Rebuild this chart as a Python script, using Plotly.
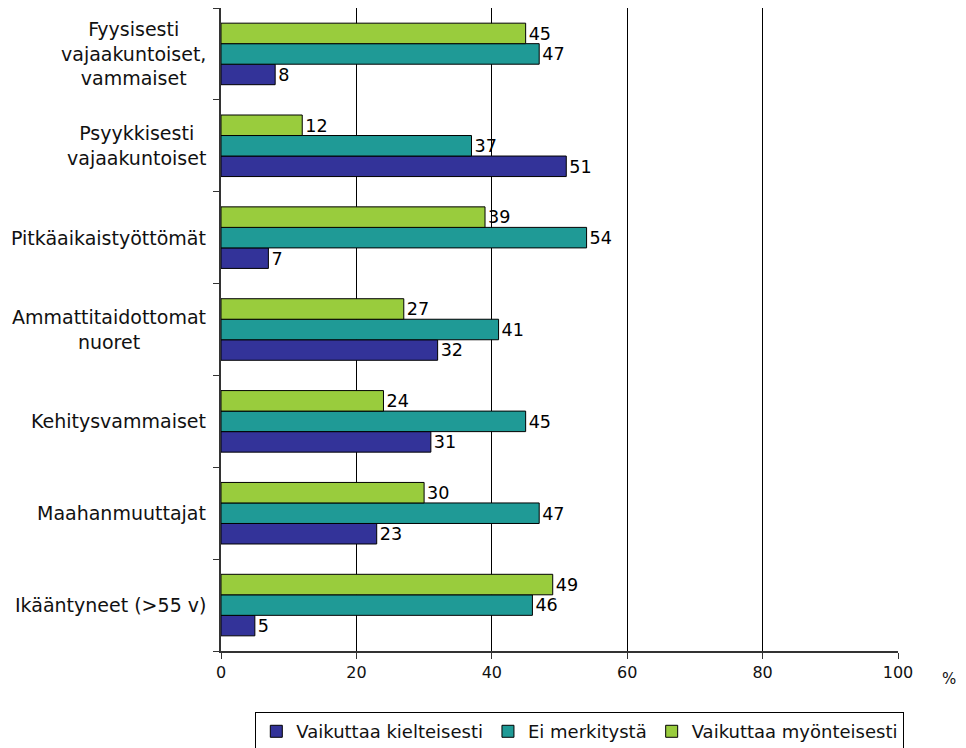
import plotly.graph_objects as go

categories = [
    "Fyysisesti<br>vajaakuntoiset,<br>vammaiset",
    "Psyykkisesti<br>vajaakuntoiset",
    "Pitkäaikaistyöttömät",
    "Ammattitaidottomat<br>nuoret",
    "Kehitysvammaiset",
    "Maahanmuuttajat",
    "Ikääntyneet (>55 v)",
]
series_names = ["Vaikuttaa kielteisesti", "Ei merkitystä", "Vaikuttaa myönteisesti"]
kielteisesti = [8, 51, 7, 32, 31, 23, 5]
ei_merkitysta = [47, 37, 54, 41, 45, 47, 46]
myonteisesti = [45, 12, 39, 27, 24, 30, 49]
x_ticks = [0, 20, 40, 60, 80, 100]

colors = ["#333399", "#1F9A96", "#99CC3D"]
FONT = "DejaVu Sans"

fig = go.Figure()
for name, vals, col in zip(series_names, [kielteisesti, ei_merkitysta, myonteisesti], colors):
    fig.add_trace(go.Bar(
        y=categories, x=vals, name=name, orientation="h",
        marker=dict(color=col, line=dict(color="black", width=1)),
        text=[str(v) for v in vals], textposition="outside",
        textfont=dict(family=FONT, size=18, color="black"),
        cliponaxis=False,
    ))

for cat in categories:
    fig.add_annotation(
        x=0, xref="paper", y=cat, yref="y", text=cat, showarrow=False,
        xanchor="right", align="center", xshift=-13,
        font=dict(family=FONT, size=19, color="#111"),
    )

fig.add_annotation(x=1, xref="paper", y=0, yref="paper", text="%", showarrow=False,
                   xanchor="left", yanchor="top", xshift=42, yshift=-17,
                   font=dict(family=FONT, size=15, color="#111"))

fig.update_layout(
    width=966, height=748,
    margin=dict(l=221, r=68, t=8, b=97, autoexpand=False),
    paper_bgcolor="white", plot_bgcolor="white",
    barmode="group", bargap=0.33, bargroupgap=0,
    font=dict(family=FONT, size=17, color="#111"),
    showlegend=True,
    legend=dict(orientation="h", x=0.53, xanchor="center", y=-0.095, yanchor="top",
                bordercolor="black", borderwidth=1, font=dict(family=FONT, size=18),
                itemwidth=30, tracegroupgap=0),
    xaxis=dict(range=[0, 100], tickvals=x_ticks, showgrid=True, gridcolor="black", gridwidth=1,
               showline=True, linecolor="#333", linewidth=1.5, ticks="outside", ticklen=6,
               tickcolor="#333", zeroline=False, tickfont=dict(family=FONT, size=16)),
    yaxis=dict(categoryorder="array", categoryarray=list(reversed(categories)),
               showticklabels=False, showline=True, linecolor="#333", linewidth=1.5,
               ticks="outside", ticklen=6, tickcolor="#333", tickson="boundaries",
               showgrid=False),
)

fig.write_html("out.html")
